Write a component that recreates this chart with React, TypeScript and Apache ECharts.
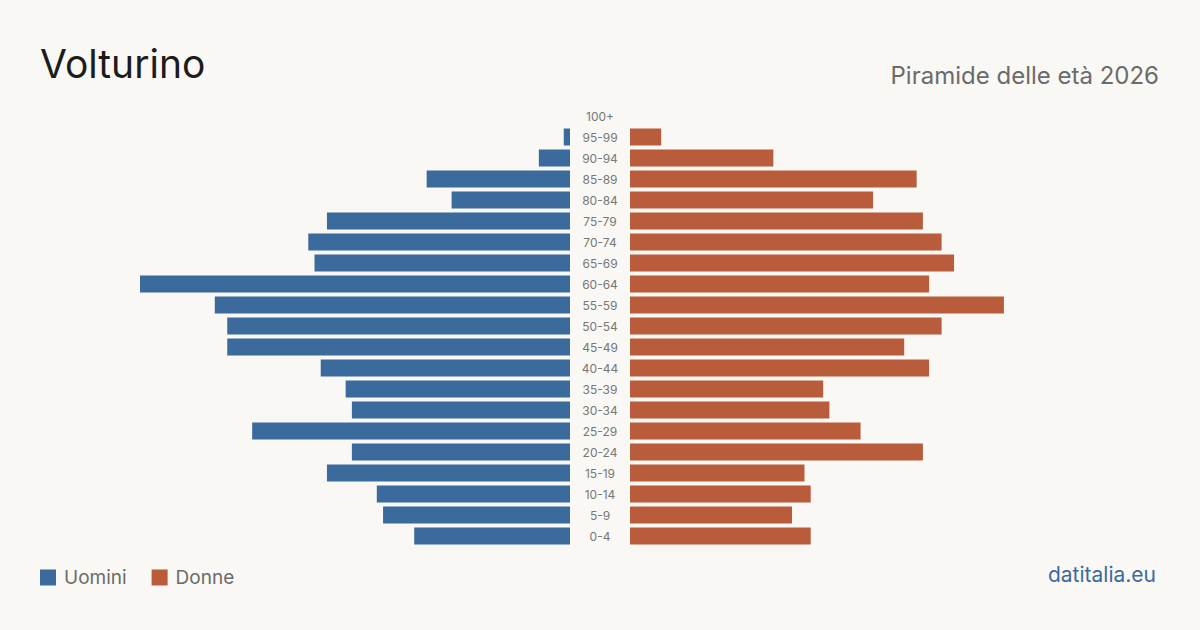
import React, { useEffect, useRef } from "react";
import * as echarts from "echarts";

// Age classes, bottom to top
const ageGroups = [
  "0-4", "5-9", "10-14", "15-19", "20-24", "25-29", "30-34", "35-39", "40-44",
  "45-49", "50-54", "55-59", "60-64", "65-69", "70-74", "75-79", "80-84",
  "85-89", "90-94", "95-99", "100+",
];
const men = [25, 30, 31, 39, 35, 51, 35, 36, 40, 55, 55, 57, 69, 41, 42, 39, 19, 23, 5, 1, 0];
const women = [29, 26, 29, 28, 47, 37, 32, 31, 48, 44, 50, 60, 48, 52, 50, 47, 39, 46, 23, 5, 0];

const BLUE = "#3b6b9c";
const ORANGE = "#b85c3c";
const BG = "#f9f8f4";
const FONT = "Inter, 'Noto Sans', sans-serif";

export default function App() {
  const ref = useRef<HTMLDivElement>(null);

  useEffect(() => {
    if (!ref.current) return;
    const chart = echarts.init(ref.current, undefined, { renderer: "svg" });
    const maxVal = Math.max(...men, ...women);
    const top = 105.5;
    const height = 441;

    chart.setOption({
      animation: false,
      backgroundColor: BG,
      textStyle: { fontFamily: FONT },
      title: [
        {
          text: "Volturino",
          left: 40,
          top: 44,
          padding: 0,
          textStyle: { fontSize: 39, fontWeight: 400, color: "#1c1c1c", fontFamily: FONT },
        },
        {
          text: "Piramide delle età 2026",
          right: 41,
          top: 63,
          padding: 0,
          textStyle: { fontSize: 24, fontWeight: 400, color: "#6b6b6b", fontFamily: FONT },
        },
      ],
      legend: {
        left: 40,
        top: 568,
        padding: 0,
        itemWidth: 16,
        itemHeight: 16,
        itemGap: 25,
        icon: "rect",
        textStyle: { fontSize: 19, color: "#6b6b6b", fontFamily: FONT, padding: [0, 0, 0, 3] },
        data: ["Uomini", "Donne"],
      },
      grid: [
        { left: 140, width: 430, top, height },
        { left: 630, width: 430, top, height },
      ],
      xAxis: [
        { gridIndex: 0, type: "value", min: 0, max: maxVal, inverse: true, show: false },
        { gridIndex: 1, type: "value", min: 0, max: maxVal, show: false },
      ],
      yAxis: [
        {
          gridIndex: 0,
          type: "category",
          data: ageGroups,
          position: "right",
          axisLine: { show: false },
          axisTick: { show: false },
          axisLabel: {
            show: true,
            align: "center",
            margin: 30,
            fontSize: 12,
            color: "#777",
            fontFamily: FONT,
          },
        },
        {
          gridIndex: 1,
          type: "category",
          data: ageGroups,
          show: false,
        },
      ],
      series: [
        {
          name: "Uomini",
          type: "bar",
          xAxisIndex: 0,
          yAxisIndex: 0,
          data: men,
          barWidth: 17,
          itemStyle: { color: BLUE },
        },
        {
          name: "Donne",
          type: "bar",
          xAxisIndex: 1,
          yAxisIndex: 1,
          data: women,
          barWidth: 17,
          itemStyle: { color: ORANGE },
        },
      ],
      graphic: [
        {
          type: "text",
          right: 44,
          top: 564,
          style: { text: "datitalia.eu", fontSize: 21, fill: BLUE, fontFamily: FONT },
        },
      ],
    });

    return () => chart.dispose();
  }, []);

  return <div ref={ref} style={{ width: 1200, height: 630, position: "fixed", left: 0, top: 0 }} />;
}
